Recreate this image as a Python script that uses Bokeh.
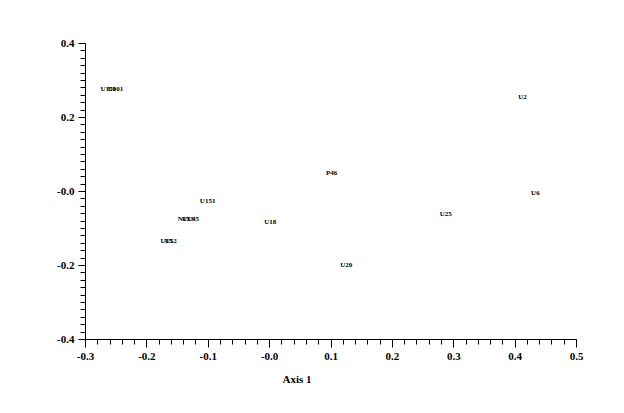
from bokeh.plotting import figure
from bokeh.models import FixedTicker, ColumnDataSource, Title
from bokeh.core.properties import value
from bokeh.embed import file_html
from bokeh.resources import INLINE

# Data
labels = ["U150", "U101", "U151", "N17", "U13", "U45", "U15", "U52",
          "P46", "U18", "U20", "U2", "U6", "U25"]
axis1 = [-0.263, -0.251, -0.101, -0.140, -0.133, -0.125, -0.168, -0.161,
         0.101, 0.001, 0.125, 0.412, 0.433, 0.287]
axis2 = [0.278, 0.278, -0.026, -0.075, -0.075, -0.075, -0.134, -0.134,
         0.050, -0.083, -0.199, 0.256, -0.004, -0.061]

x_ticks = [-0.3, -0.2, -0.1, 0.0, 0.1, 0.2, 0.3, 0.4, 0.5]
x_tick_labels = ["-0.3", "-0.2", "-0.1", "-0.0", "0.1", "0.2", "0.3", "0.4", "0.5"]
y_ticks = [-0.4, -0.2, 0.0, 0.2, 0.4]
y_tick_labels = ["-0.4", "-0.2", "-0.0", "0.2", "0.4"]
x_minor = [round(-0.3 + 0.02 * i, 2) for i in range(41)]
y_minor = [round(-0.4 + 0.02 * i, 2) for i in range(41)]

FONT = "Liberation Serif"

p = figure(width=616, height=405, output_backend="svg", toolbar_location=None,
           x_range=(-0.3, 0.5), y_range=(-0.4, 0.4),
           min_border_left=85, min_border_top=43, min_border_right=40, min_border_bottom=66)
p.frame_width = 491
p.frame_height = 296
p.outline_line_color = None
p.xgrid.visible = False
p.ygrid.visible = False
p.background_fill_color = "white"
p.border_fill_color = "white"

src = ColumnDataSource(dict(x=axis1, y=axis2, t=labels))
p.text(x="x", y="y", text="t", source=src, text_font=value(FONT),
       text_font_style="bold", text_font_size="7px", text_color="black",
       text_align="center", text_baseline="middle")

for ax, ticks, minor, labs in ((p.xaxis[0], x_ticks, x_minor, x_tick_labels),
                               (p.yaxis[0], y_ticks, y_minor, y_tick_labels)):
    ax.ticker = FixedTicker(ticks=ticks, minor_ticks=minor)
    ax.major_label_overrides = {t: l for t, l in zip(ticks, labs)}
    ax.major_label_text_font = FONT
    ax.major_label_text_font_style = "bold"
    ax.major_label_text_font_size = "11px"
    ax.major_label_text_color = "black"
    ax.axis_line_color = "black"
    ax.major_tick_line_color = "black"
    ax.minor_tick_line_color = "black"
    ax.major_tick_in = 0
    ax.minor_tick_in = 0
    ax.minor_tick_out = 5

p.xaxis.major_tick_out = 8
p.yaxis.major_tick_out = 7
p.xaxis.major_label_standoff = 5
p.yaxis.major_label_standoff = 4

t = Title(text="Axis 1", align="left", offset=197, standoff=17,
          text_font=FONT, text_font_style="bold", text_font_size="11px",
          text_color="black")
p.add_layout(t, "below")

open("out.html", "w").write(file_html(p, INLINE))
